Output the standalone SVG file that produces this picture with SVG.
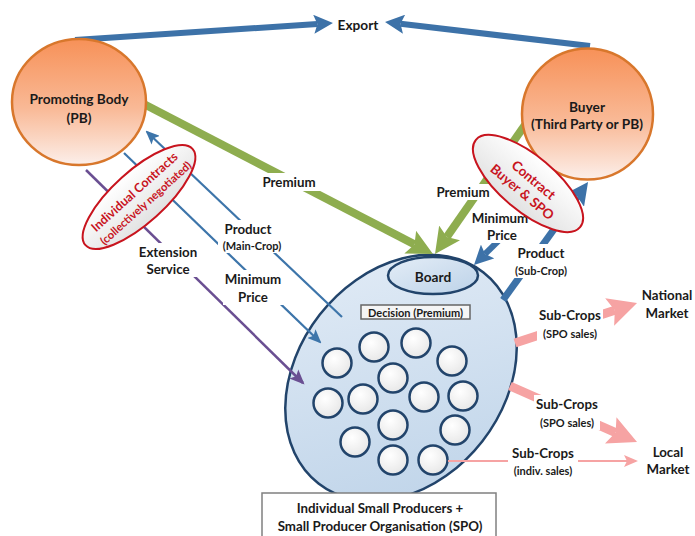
<svg xmlns="http://www.w3.org/2000/svg" width="695" height="536" viewBox="0 0 695 536">
  <defs>
    <linearGradient id="gOrange" x1="0" y1="0" x2="0" y2="1">
      <stop offset="0" stop-color="#f79158"/>
      <stop offset="0.55" stop-color="#f9b996"/>
      <stop offset="1" stop-color="#fcefea"/>
    </linearGradient>
    <linearGradient id="gBlue" x1="0" y1="0" x2="1" y2="1">
      <stop offset="0" stop-color="#e4edf7"/>
      <stop offset="1" stop-color="#bcd2e8"/>
    </linearGradient>
    <linearGradient id="gContract" x1="0" y1="0" x2="0" y2="1">
      <stop offset="0" stop-color="#ffffff"/>
      <stop offset="1" stop-color="#e2e2e2"/>
    </linearGradient>
    <radialGradient id="gMember" cx="0.4" cy="0.35" r="0.7">
      <stop offset="0" stop-color="#ffffff"/>
      <stop offset="1" stop-color="#e6e6e6"/>
    </radialGradient>
    <!-- heavy arrowheads, scaled to stroke width -->
    <marker id="hBlue" viewBox="0 0 8 8" refX="1.5" refY="4" markerWidth="3.2" markerHeight="3.2" orient="auto">
      <path d="M0,0 L8,4 L0,8 L1.5,4 z" fill="#3d72a8"/>
    </marker>
    <marker id="hGreen" viewBox="0 0 8 8" refX="1.5" refY="4" markerWidth="3.2" markerHeight="3.2" orient="auto">
      <path d="M0,0 L8,4 L0,8 L1.5,4 z" fill="#8ead4f"/>
    </marker>
    <marker id="hPink" viewBox="0 0 8 8" refX="1.5" refY="4" markerWidth="3.2" markerHeight="3.2" orient="auto">
      <path d="M0,0 L8,4 L0,8 L1.5,4 z" fill="#f6a3a3"/>
    </marker>
    <!-- light arrowheads for thin lines -->
    <marker id="tBlue" viewBox="0 0 14 12" refX="12" refY="6" markerWidth="14" markerHeight="12" markerUnits="userSpaceOnUse" orient="auto">
      <path d="M0,0 L14,6 L0,12 L3,6 z" fill="#3d75aa"/>
    </marker>
    <marker id="tPurple" viewBox="0 0 14 12" refX="12" refY="6" markerWidth="15" markerHeight="13" markerUnits="userSpaceOnUse" orient="auto">
      <path d="M0,0 L14,6 L0,12 L3,6 z" fill="#6a4f92"/>
    </marker>
    <marker id="tPink" viewBox="0 0 14 12" refX="12" refY="6" markerWidth="14" markerHeight="12" markerUnits="userSpaceOnUse" orient="auto">
      <path d="M0,0 L14,6 L0,12 L3,6 z" fill="#f6a3a3"/>
    </marker>
  </defs>
  <style>
    text { font-family: Lato, "Liberation Sans", sans-serif; font-weight: bold; fill: #1a1a1a; text-anchor: middle; dominant-baseline: central; }
    .t13 { font-size: 13.7px; }
    .t12 { font-size: 13.3px; }
    .t10 { font-size: 11px; }
    .red { fill: #c8141e; }
    .bg { fill: #ffffff; }
    .party { fill: url(#gOrange); stroke: #d8772c; stroke-width: 2.5; }
    .spo { fill: url(#gBlue); stroke: #22446b; stroke-width: 2.5; }
    .member { fill: url(#gMember); stroke: #22446b; stroke-width: 2.5; }
    .contract { fill: url(#gContract); stroke: #c8141e; stroke-width: 2; }
    .c { fill: none; stroke-linecap: butt; }
    .blueH { stroke: #3d72a8; marker-end: url(#hBlue); }
    .greenH { stroke: #8ead4f; stroke-width: 8; marker-end: url(#hGreen); }
    .pinkH { stroke: #f6a3a3; stroke-width: 9; marker-end: url(#hPink); }
    .blueT { stroke: #3d75aa; stroke-width: 2.2; marker-end: url(#tBlue); }
  </style>

  <rect width="695" height="536" fill="#ffffff"/>

  <!-- Small producer organisation with its board and members -->
  <g id="spo">
    <ellipse class="spo" cx="401" cy="378" rx="103" ry="134" transform="rotate(38 401 378)"/>
    <g id="board">
      <ellipse class="spo" cx="433" cy="275.5" rx="45" ry="18.5"/>
      <text class="t13" x="433" y="276">Board</text>
    </g>
    <g id="decision">
      <rect x="361" y="305" width="109" height="14" fill="#f5f5f5" stroke="#666666" stroke-width="1.5"/>
      <text class="t10" x="415.5" y="312.5">Decision (Premium)</text>
    </g>
    <g id="members">
      <circle class="member" cx="337" cy="363" r="14.5"/>
      <circle class="member" cx="374" cy="347" r="14.5"/>
      <circle class="member" cx="416" cy="343" r="14.5"/>
      <circle class="member" cx="452" cy="361" r="14.5"/>
      <circle class="member" cx="393" cy="378" r="14.5"/>
      <circle class="member" cx="328" cy="403" r="14.5"/>
      <circle class="member" cx="363" cy="399" r="14.5"/>
      <circle class="member" cx="424" cy="397" r="14.5"/>
      <circle class="member" cx="463" cy="396" r="14.5"/>
      <circle class="member" cx="393" cy="425" r="14.5"/>
      <circle class="member" cx="455" cy="430" r="14.5"/>
      <circle class="member" cx="355" cy="442" r="14.5"/>
      <circle class="member" cx="393" cy="460" r="14.5"/>
      <circle class="member" cx="433" cy="460" r="14.5"/>
    </g>
  </g>

  <!-- Flows between the parties -->
  <g id="connectors">
    <!-- exports -->
    <path class="c blueH" stroke-width="6" d="M75,40 L317.4,24"/>
    <path class="c blueH" stroke-width="6" d="M590,46 L400.5,23.8"/>
    <!-- premium to the board -->
    <path class="c greenH" d="M140,102 L414.5,244.4"/>
    <path class="c greenH" d="M527,122 L446.9,236.9"/>
    <!-- buyer: minimum price and product (sub-crop) -->
    <path class="c blueH" stroke-width="6" d="M545,195 L485.1,254"/>
    <path class="c blueH" stroke-width="7" d="M503,300 L577.4,196.8"/>
    <!-- promoting body: product (main-crop), minimum price, extension service -->
    <path class="c blueT" d="M342,317 L147,132"/>
    <path class="c blueT" d="M124,153 L320,342"/>
    <path class="c" stroke="#6a4f92" stroke-width="2.5" marker-end="url(#tPurple)" d="M86,170 L303,383"/>
    <!-- sub-crop sales -->
    <path class="c pinkH" d="M515,343 L614.8,310.3"/>
    <path class="c pinkH" d="M510,386 L615.6,432.6"/>
    <path class="c" stroke="#f6a3a3" stroke-width="2" marker-end="url(#tPink)" d="M448,461 L636,461"/>
  </g>

  <!-- Flow labels -->
  <g id="flow-labels">
    <rect class="bg" x="259" y="173" width="61" height="18"/>
    <text class="t12" x="289" y="182">Premium</text>

    <rect class="bg" x="218" y="220" width="69" height="33"/>
    <text class="t12" x="248" y="229">Product</text>
    <text class="t10" x="252" y="245">(Main-Crop)</text>

    <rect class="bg" x="223" y="270" width="61" height="35"/>
    <text class="t12" x="253" y="279">Minimum</text>
    <text class="t12" x="253" y="297">Price</text>

    <rect class="bg" x="133" y="243" width="71" height="34"/>
    <text class="t12" x="168" y="252">Extension</text>
    <text class="t12" x="168" y="269">Service</text>

    <rect class="bg" x="434" y="184" width="59" height="16"/>
    <text class="t12" x="463" y="192">Premium</text>

    <rect class="bg" x="471" y="209" width="58" height="34"/>
    <text class="t12" x="500" y="218">Minimum</text>
    <text class="t12" x="502" y="235">Price</text>

    <rect class="bg" x="512" y="244" width="59" height="34"/>
    <text class="t12" x="541" y="253">Product</text>
    <text class="t10" x="541" y="270">(Sub-Crop)</text>

    <rect class="bg" x="537" y="306" width="66" height="35"/>
    <text class="t12" x="570" y="315">Sub-Crops</text>
    <text class="t10" x="570" y="333">(SPO sales)</text>

    <rect class="bg" x="534" y="395" width="66" height="35"/>
    <text class="t12" x="567" y="404">Sub-Crops</text>
    <text class="t10" x="567" y="422">(SPO sales)</text>

    <rect class="bg" x="508" y="444" width="70" height="34"/>
    <text class="t12" x="543" y="453">Sub-Crops</text>
    <text class="t10" x="543" y="470">(indiv. sales)</text>
  </g>

  <g id="export">
    <text class="t13" x="358" y="24">Export</text>
  </g>

  <g id="promoting-body">
    <ellipse class="party" cx="79" cy="102" rx="67" ry="63"/>
    <text class="t13" x="79" y="98">Promoting Body</text>
    <text class="t13" x="79" y="117">(PB)</text>
  </g>

  <g id="buyer">
    <circle class="party" cx="587.5" cy="114" r="65.5"/>
    <text class="t13" x="587" y="106">Buyer</text>
    <text class="t13" x="587" y="123">(Third Party or PB)</text>
  </g>

  <g id="individual-contracts" transform="translate(139 197) rotate(-42)">
    <ellipse class="contract" cx="0" cy="0" rx="72" ry="26"/>
    <text class="red" font-size="12.5" x="0" y="-7">Individual Contracts</text>
    <text class="red" font-size="11.2" x="1" y="8.5">(collectively negotiated)</text>
  </g>

  <g id="contract-buyer-spo" transform="translate(528 183.5) rotate(40)">
    <ellipse class="contract" cx="0" cy="0" rx="68" ry="27.5"/>
    <text class="red" font-size="13.5" x="2" y="-6.5">Contract</text>
    <text class="red" font-size="13.5" x="1" y="10">Buyer &amp; SPO</text>
  </g>

  <g id="national-market">
    <text class="t12" x="667" y="295">National</text>
    <text class="t12" x="667" y="313">Market</text>
  </g>

  <g id="local-market">
    <text class="t12" x="668" y="452">Local</text>
    <text class="t12" x="668" y="469">Market</text>
  </g>

  <g id="spo-caption">
    <rect x="262" y="493" width="234" height="50" fill="#ffffff" stroke="#808080" stroke-width="1.5"/>
    <text class="t12" x="380" y="508">Individual Small Producers +</text>
    <text class="t12" x="380" y="526">Small Producer Organisation (SPO)</text>
  </g>
</svg>
